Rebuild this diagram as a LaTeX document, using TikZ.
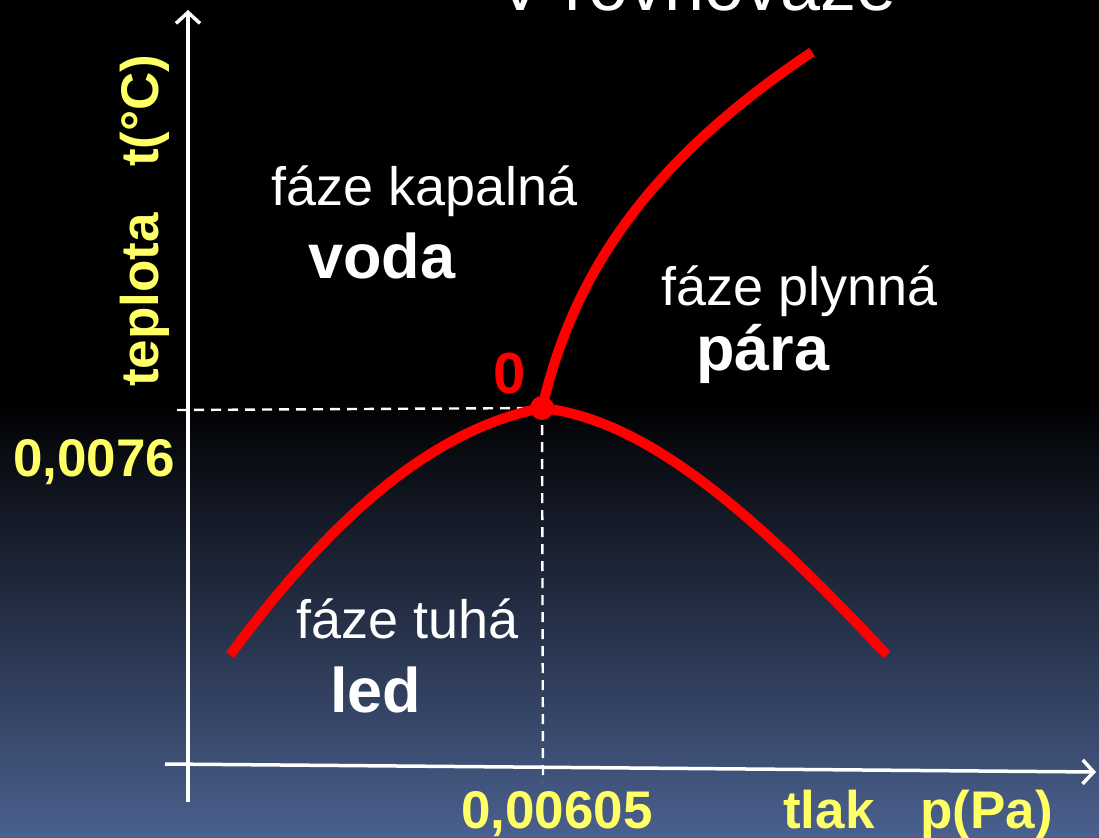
\documentclass[tikz,border=0pt]{standalone}
\usepackage{fontspec}
\setmainfont{Liberation Sans}
\usetikzlibrary{arrows.meta}
\definecolor{ylw}{RGB}{255,255,102}
\definecolor{bgbot}{RGB}{74,96,142}
\definecolor{redc}{RGB}{255,0,0}
\begin{document}
\begin{tikzpicture}[x=1pt,y=-1pt,
  lbl/.style={inner sep=0pt,anchor=base west,text=white,font=\fontsize{54}{60}\selectfont},
  blbl/.style={inner sep=0pt,anchor=base west,text=white,font=\bfseries\fontsize{63}{70}\selectfont},
  ylbl/.style={inner sep=0pt,anchor=base west,text=ylw,font=\bfseries\fontsize{53}{60}\selectfont},
  axis/.style={draw=white,line width=3.5pt,-{Straight Barb[length=11pt,width=24pt,line width=3.5pt]}},
  guide/.style={draw=white,line width=2.4pt,dash pattern=on 10pt off 7pt},
  curve/.style={draw=redc,line width=10pt}]
\useasboundingbox (0,0) rectangle (1099,837);
\fill[black] (0,0) rectangle (1099,401);
\shade[top color=black,bottom color=bgbot] (0,400) rectangle (1099,837);

% title (cut off at the top edge, as in the reference)
\node[inner sep=0pt,anchor=base,text=white,font=\fontsize{72}{80}\selectfont] (title) at (697,11) {V rovnováze};

% axes
\coordinate (ybot) at (188,802);
\coordinate (ytop) at (188,10);
\coordinate (xl) at (165,764);
\coordinate (xr) at (1096,772);
\draw[axis] (ybot) -- (ytop);
\draw[axis] (xl) -- (xr);

% triple point
\coordinate (T) at (542,408);
\coordinate (hg) at (177,410);
\coordinate (vg) at (543,782);
\draw[guide] (hg) -- (T);
\draw[guide] (T) -- (vg);

% curves
\coordinate (A) at (812,52);
\coordinate (B) at (230,655);
\coordinate (C) at (887,655);
\draw[curve] (T) .. controls (570,290) and (632,172) .. (A);
\draw[curve] (B) .. controls (330,520) and (430,430) .. (T);
\draw[curve] (T) .. controls (650,420) and (760,520) .. (C);
\fill[redc] (T) circle (12pt);

% labels
\node[inner sep=0pt,anchor=base west,text=redc,font=\bfseries\fontsize{58}{64}\selectfont] (zero) at (493,393) {0};
\node[lbl] (kap) at (271,205) {fáze kapalná};
\node[blbl] (voda) at (308,278) {voda};
\node[lbl] (ply) at (661,305) {fáze plynná};
\node[blbl] (para) at (696,370) {pára};
\node[lbl] (tuh) at (296,638) {fáze tuhá};
\node[blbl] (led) at (330,712) {led};

\node[ylbl] (tv) at (13,476) {0,0076};
\node[ylbl] (pv) at (461,828) {0,00605};
\node[ylbl] (tlak) at (783,828) {tlak};
\node[ylbl] (pa) at (920,828) {p(Pa)};
\node[ylbl,rotate=90] (tep) at (158,387) {teplota};
\node[ylbl,rotate=90] (tc) at (158,167) {t(°C)};
\end{tikzpicture}
\end{document}
